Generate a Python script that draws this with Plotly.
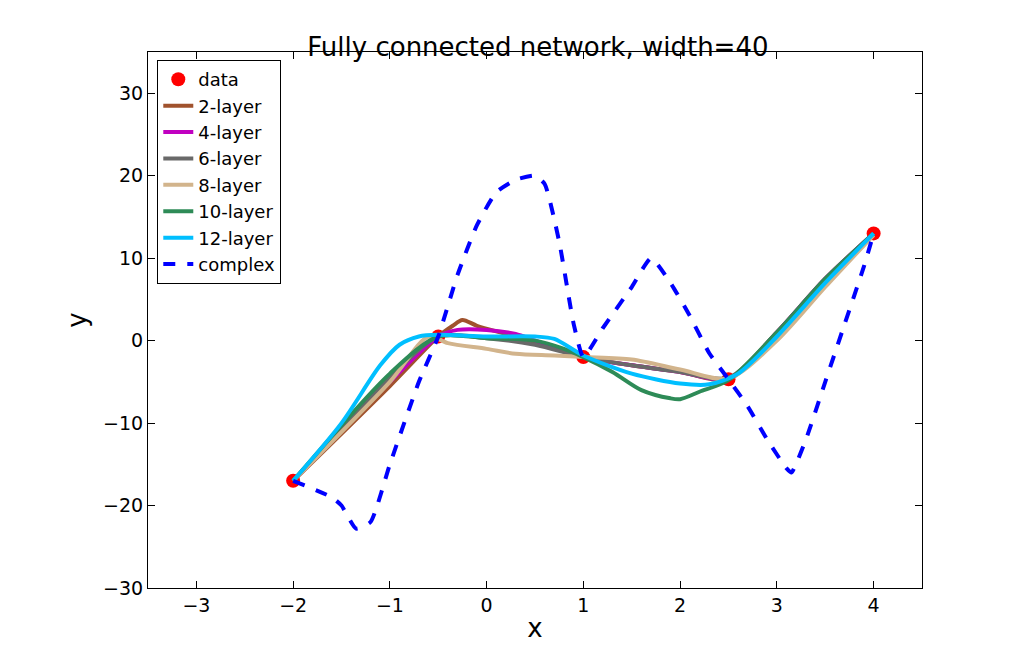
import plotly.graph_objects as go

data_x = [-2, -0.5, 1, 2.5, 4]
data_y = [-17, 0.5, -2, -4.7, 13]

l2_x = [-2, -1, -0.5, -0.35, -0.25, -0.1, 0.2, 0.5, 1, 1.5, 2, 2.5, 3, 3.5, 4]
l2_y = [-17, -5.5, 0.5, 1.8, 2.5, 1.8, 0.8, -0.2, -2, -3, -3.8, -4.7, 1, 7.5, 13]
l4_x = [-2, -1, -0.5, -0.3, 0, 0.3, 0.5, 1, 1.5, 2, 2.5, 3, 3.5, 4]
l4_y = [-17, -5, 0.5, 1.3, 1.3, 0.8, 0, -2, -3, -3.8, -4.6, 1, 7.5, 13]
l6_x = [-2, -1, -0.5, 0, 0.5, 1, 1.5, 2, 2.5, 3, 3.5, 4]
l6_y = [-17, -4.5, 0.5, 0.3, -0.5, -2, -3, -3.8, -4.5, 1, 7.3, 13]
l8_x = [-2, -1, -0.6, -0.4, 0, 0.3, 0.7, 1, 1.5, 2, 2.5, 3, 3.5, 4]
l8_y = [-17, -5, 0.5, -0.3, -1, -1.6, -1.8, -2, -2.3, -3.5, -4.6, 0, 6.5, 12.8]
l10_x = [-2, -1, -0.5, 0, 0.5, 0.8, 1, 1.3, 1.6, 1.9, 2.0, 2.2, 2.5, 3, 3.5, 4]
l10_y = [-17, -4, 0.5, 0.3, 0, -1, -2, -3.8, -6, -7, -7.1, -6.2, -4.8, 1, 7.5, 13]
l12_x = [-2, -1.5, -1.1, -0.9, -0.7, -0.5, 0, 0.5, 0.7, 1, 1.5, 2, 2.3, 2.6, 3, 3.5, 4]
l12_y = [-17, -10, -3, -0.5, 0.5, 0.7, 0.5, 0.5, 0.2, -1.8, -4, -5.2, -5.3, -4, 0.5, 7, 13]
cx = [-2, -1.6, -1.5, -1.35, -1.2, -1, -0.7, -0.5, -0.3, -0.1, 0.1, 0.3, 0.5, 0.6, 0.75, 0.9, 1,
      1.2, 1.5, 1.7, 1.9, 2.1, 2.3, 2.5, 2.7, 2.9, 3.1, 3.15, 3.3, 3.5, 3.7, 3.9, 4]
cy = [-17, -19, -20, -22.8, -22, -15, -5, 0.5, 8, 14, 18, 19.5, 20, 19, 12, 2, -2,
      1.5, 6.5, 10, 7, 3, -1.5, -4.7, -8, -12, -15.5, -16, -12, -5, 2, 9, 13]

fig = go.Figure()
fig.add_trace(go.Scatter(x=data_x, y=data_y, mode="markers", name="data",
                         marker=dict(color="red", size=14)))
series = [("2-layer", l2_x, l2_y, "#a0522d"), ("4-layer", l4_x, l4_y, "#c000c0"),
          ("6-layer", l6_x, l6_y, "#696969"), ("8-layer", l8_x, l8_y, "#d2b48c"),
          ("10-layer", l10_x, l10_y, "#2e8b57"), ("12-layer", l12_x, l12_y, "#00bfff")]
for n, x, y, c in series:
    fig.add_trace(go.Scatter(x=x, y=y, mode="lines", name=n,
                             line=dict(color=c, width=4, shape="spline", smoothing=0.8)))
fig.add_trace(go.Scatter(x=cx, y=cy, mode="lines", name="complex",
                         line=dict(color="blue", width=4, dash="dash", shape="spline", smoothing=0.5)))

ax = dict(showgrid=False, zeroline=False, showline=True, linecolor="black", mirror="allticks",
          ticks="inside", ticklen=7, tickcolor="black", tickfont=dict(size=19, color="black"))
fig.update_layout(
    width=1023, height=658, plot_bgcolor="white", paper_bgcolor="white",
    font=dict(family="DejaVu Sans", color="black"),
    title=dict(text="Fully connected network, width=40", x=0.518, y=0.955, font=dict(size=26)),
    margin=dict(l=140, r=109, t=44, b=78),
    xaxis=dict(range=[-3.5, 4.5], title=dict(text="x", font=dict(size=26), standoff=4), **ax),
    yaxis=dict(range=[-30, 35], tickvals=[-30, -20, -10, 0, 10, 20, 30],
               ticktext=["\u221230", "\u221220", "\u221210", "0", "10", "20", "30"],
               title=dict(text="y", font=dict(size=26), standoff=8), **ax),
    legend=dict(x=0.012, y=0.985, xanchor="left", yanchor="top", bordercolor="black", borderwidth=1,
                bgcolor="white", font=dict(size=18), tracegroupgap=0),
)
fig.update_xaxes(tickvals=[-3, -2, -1, 0, 1, 2, 3, 4],
                 ticktext=["\u22123", "\u22122", "\u22121", "0", "1", "2", "3", "4"])
fig.write_html("out.html")
